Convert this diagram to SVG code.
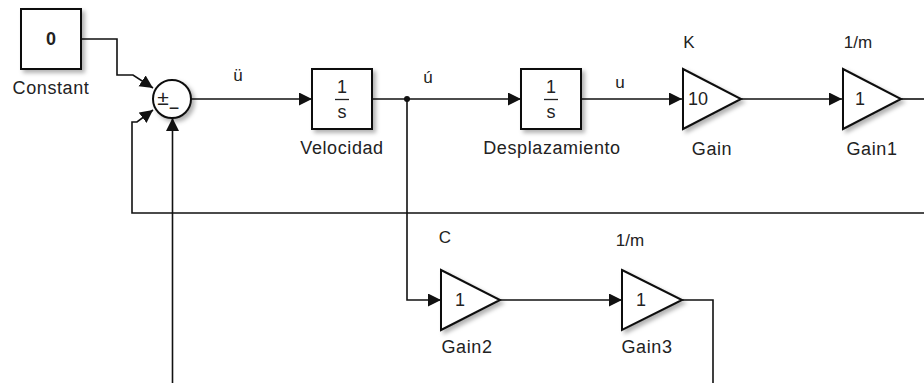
<svg xmlns="http://www.w3.org/2000/svg" width="924" height="383" viewBox="0 0 924 383">
<style>
text{font-family:"Liberation Sans",Arial,sans-serif;fill:#222}
.lbl{font-size:18px;letter-spacing:0.6px;text-anchor:middle}
.val{font-size:18px;text-anchor:middle}
.sig{font-size:17px;text-anchor:middle}
.blk{fill:#fff;stroke:#111;stroke-width:2}
.ln{fill:none;stroke:#111;stroke-width:1.6}
</style>
<defs>
<filter id="sh" x="-20%" y="-20%" width="150%" height="150%">
<feDropShadow dx="3" dy="3" stdDeviation="2" flood-color="#000" flood-opacity="0.3"/>
</filter>
<marker id="ar" markerUnits="userSpaceOnUse" markerWidth="14" markerHeight="14" refX="13" refY="6.5" orient="auto">
<path d="M0,0 L13,6.5 L0,13 z" fill="#111"/>
</marker>
</defs>

<g id="connectors">
<path class="ln" d="M81,39 H117 V75 H133 L153,88" marker-end="url(#ar)"/>
<path class="ln" d="M924,213 H132 V122 H137 L153,110" marker-end="url(#ar)"/>
<path class="ln" d="M172.5,383 V118" marker-end="url(#ar)"/>
<path class="ln" d="M191,99 H312" marker-end="url(#ar)"/>
<path class="ln" d="M372,99 H521" marker-end="url(#ar)"/>
<path class="ln" d="M581,99 H682" marker-end="url(#ar)"/>
<path class="ln" d="M741,99 H842" marker-end="url(#ar)"/>
<path class="ln" d="M901,99 H924"/>
<path class="ln" d="M407,99 V300 H441" marker-end="url(#ar)"/>
<path class="ln" d="M500,300 H622" marker-end="url(#ar)"/>
<path class="ln" d="M682,300 H713 V383"/>
<circle cx="407" cy="99" r="3" fill="#111"/>
<text class="sig" x="238" y="81">ü</text>
<text class="sig" x="428" y="83">ú</text>
<text class="sig" x="620" y="88">u</text>
</g>

<g id="constant">
<rect class="blk" x="21" y="9" width="60" height="60" filter="url(#sh)"/>
<text class="val" x="51" y="45" font-weight="bold" font-size="17">0</text>
<text class="lbl" x="51" y="94">Constant</text>
</g>

<g id="sum">
<circle class="blk" cx="172" cy="99" r="19" filter="url(#sh)"/>
<text x="163" y="105" font-size="21" text-anchor="middle">±</text>
<text x="174" y="114" font-size="18" text-anchor="middle">−</text>
</g>

<g id="velocidad">
<rect class="blk" x="312" y="69" width="60" height="60" filter="url(#sh)"/>
<text class="val" x="342" y="93">1</text>
<line x1="335" y1="99.5" x2="349" y2="99.5" stroke="#222" stroke-width="1.3"/>
<text class="val" x="342" y="118">s</text>
<text class="lbl" x="342" y="154">Velocidad</text>
</g>

<g id="desplazamiento">
<rect class="blk" x="521" y="69" width="60" height="60" filter="url(#sh)"/>
<text class="val" x="551" y="93">1</text>
<line x1="544" y1="99.5" x2="558" y2="99.5" stroke="#222" stroke-width="1.3"/>
<text class="val" x="551" y="118">s</text>
<text class="lbl" x="552" y="154">Desplazamiento</text>
</g>

<g id="gain">
<polygon class="blk" points="683,69 741,99 683,129" filter="url(#sh)"/>
<text x="688" y="105" font-size="18">10</text>
<text class="sig" x="689" y="48" font-size="18">K</text>
<text class="lbl" x="712" y="155">Gain</text>
</g>

<g id="gain1">
<polygon class="blk" points="843,69 901,99 843,129" filter="url(#sh)"/>
<text x="855" y="105" font-size="18">1</text>
<text class="sig" x="858" y="48" font-size="18">1/m</text>
<text class="lbl" x="872" y="155">Gain1</text>
</g>

<g id="gain2">
<polygon class="blk" points="441,270 500,300 441,330" filter="url(#sh)"/>
<text x="455" y="306" font-size="18">1</text>
<text class="sig" x="445" y="243" font-size="18">C</text>
<text class="lbl" x="467" y="353">Gain2</text>
</g>

<g id="gain3">
<polygon class="blk" points="622,270 682,300 622,330" filter="url(#sh)"/>
<text x="636" y="306" font-size="18">1</text>
<text class="sig" x="630" y="246" font-size="18">1/m</text>
<text class="lbl" x="647" y="353">Gain3</text>
</g>
</svg>
